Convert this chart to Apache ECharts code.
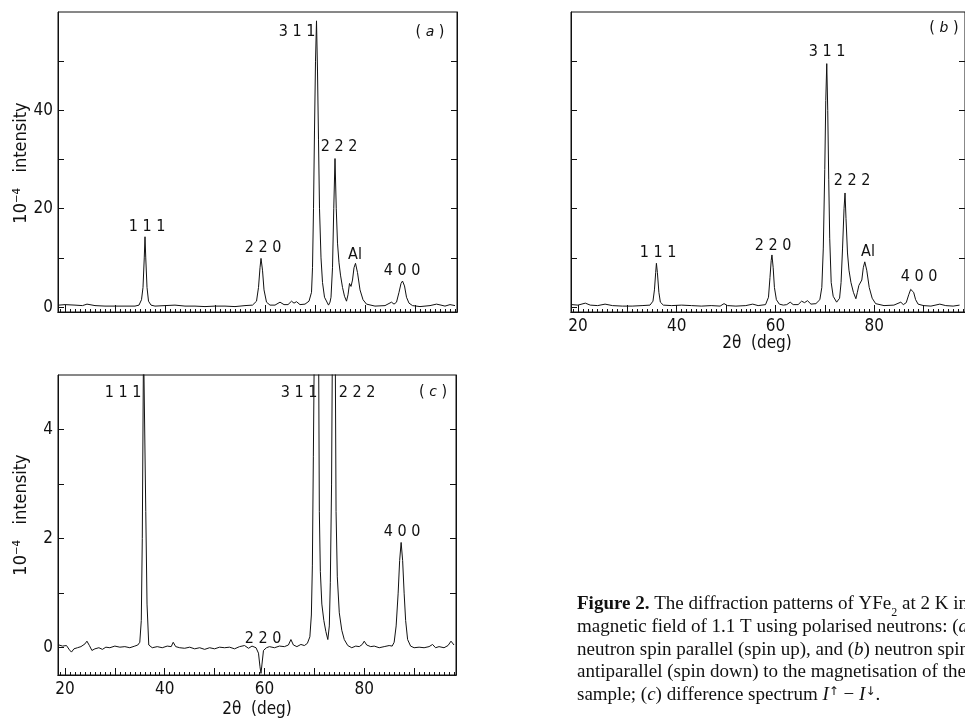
<!DOCTYPE html>
<html>
<head>
<meta charset="utf-8">
<script src="https://cdn.jsdelivr.net/npm/echarts@6/dist/echarts.min.js"></script>
<style>
html,body{margin:0;padding:0;background:#fff;}
#chart{width:965px;height:722px;}
</style>
</head>
<body>
<div id="chart"></div>
<script>
// ---- data: [2θ (deg), 10^-4 intensity] ----
const spinUp = [
[18.8,0.4],[20,0.5],[22,0.4],[23.5,0.3],[24.4,0.6],[26,0.3],[28,0.2],[30,0.2],[32,0.2],[34,0.2],
[34.8,0.4],[35.3,1.5],[35.6,4],[35.85,10],[36.0,14.3],[36.15,10],[36.4,4],[36.7,1.2],[37.2,0.4],
[38,0.2],[40,0.3],[42,0.4],[44,0.2],[46,0.2],[48,0.1],[50,0.2],[52,0.2],[54,0.1],[56,0.3],[57.5,0.4],
[58.3,1.2],[58.7,4],[59.0,8],[59.2,9.9],[59.5,7.5],[59.8,3.5],[60.3,1.0],[61,0.4],[62,0.4],[63,1.0],
[63.8,0.5],[64.6,0.5],[65.3,1.2],[65.8,0.8],[66.3,1.1],[67,0.5],[68,0.6],[68.8,1.2],
[69.3,3],[69.5,8],[69.7,20],[69.9,36],[70.1,50],[70.3,58.2],[70.5,48],[70.7,34],[70.9,20],[71.2,10],
[71.5,5],[71.9,2],[72.7,0.4],[73.0,1.0],[73.2,2],[73.5,8],[73.75,20],[74.0,30.2],[74.25,20],[74.5,13],
[74.8,9],[75.1,6.5],[75.5,4],[75.9,2.2],[76.3,1.2],[76.6,2.5],[76.9,4.8],[77.2,4.2],[77.5,5.5],
[77.8,8],[78.1,8.9],[78.5,7],[79,3.5],[79.6,1.5],[80.3,0.6],[82,0.2],[84,0.3],[85.3,1.0],[85.8,0.6],
[86.3,1.0],[86.8,3],[87.2,4.8],[87.5,5.3],[87.9,4.3],[88.3,2],[88.8,0.8],[89.5,0.3],[91,0.1],[92,0.2],
[93,0.3],[94.3,0.6],[95.2,0.4],[96,0.2],[97,0.5],[98,0.3]
];
const spinDown = [
[18.8,0.5],[20,0.4],[21.5,0.8],[22.5,0.4],[24,0.3],[25.5,0.6],[27,0.3],[29,0.2],[31,0.2],[33,0.3],
[34.6,0.4],[35.2,1.2],[35.5,3.5],[35.75,7],[35.9,8.9],[36.1,7],[36.4,3],[36.7,1.0],[37.3,0.4],
[39,0.3],[41,0.4],[43,0.3],[45,0.2],[47,0.3],[48.8,0.2],[49.6,0.7],[50.3,0.3],[52,0.2],[54,0.3],
[55.4,0.6],[56.5,0.3],[58,0.5],[58.6,2],[58.9,6],[59.15,9.5],[59.3,10.6],[59.55,8],[59.8,4],[60.2,1.5],
[60.8,0.6],[61.6,0.4],[62.3,0.5],[63,1.0],[63.6,0.5],[64.6,0.5],[65.3,1.2],[65.9,0.9],[66.5,1.3],
[67.2,0.6],[68.2,0.7],[69,1.5],[69.4,4],[69.7,12],[70.0,28],[70.2,42],[70.4,49.5],[70.6,40],[70.8,26],
[71.0,14],[71.3,5],[71.7,2.2],[72.4,1.0],[73.0,1.8],[73.3,5],[73.6,12],[73.9,20],[74.1,23.2],[74.3,18],
[74.6,11],[74.9,7.5],[75.3,5],[75.8,3],[76.3,1.7],[76.6,3],[76.9,4.4],[77.2,4.0],[77.5,5.5],[77.8,8],
[78.1,9.2],[78.5,7.5],[79,4],[79.6,1.8],[80.3,0.7],[82,0.3],[84,0.4],[85.4,1.0],[85.9,0.5],[86.5,0.9],
[87.0,2.5],[87.4,3.6],[87.6,3.8],[88.0,3],[88.4,1.5],[88.9,0.6],[90,0.3],[91.5,0.2],[93.3,0.6],
[94.5,0.3],[96,0.2],[97.3,0.4]
];
const difference = [
[18.8,0.05],[19.5,0.03],[20.3,0.04],[20.9,-0.04],[21.3,-0.08],[21.8,-0.02],[22.5,0.0],[23.2,0.02],
[24.0,0.07],[24.4,0.12],[24.9,0.04],[25.4,-0.05],[26.0,-0.02],[26.8,0.0],[27.5,-0.03],[28.2,0.01],
[29,0.0],[30,0.03],[31,0.01],[32,0.02],[33,0.0],[34,0.03],[34.6,0.05],[35.0,0.1],[35.3,0.5],[35.5,2.0],
[35.75,5.6],[36.05,5.6],[36.2,2.5],[36.45,0.8],[36.8,0.05],[37.5,0.0],[38.5,0.02],[39.5,0.0],
[40.5,0.03],[41.3,0.02],[41.7,0.1],[42.2,0.02],[43,0.0],[44,-0.01],[45,0.01],[46,-0.02],[47,0.0],
[48,-0.03],[49,0.0],[50,-0.02],[51,0.01],[52,0.0],[53,0.01],[54,-0.02],[55,0.02],[56,0.04],
[56.8,-0.01],[57.5,0.03],[58.3,0.0],[58.8,-0.1],[59.1,-0.35],[59.3,-0.47],[59.5,-0.3],[59.8,-0.05],
[60.4,0.0],[61,0.02],[62,0.0],[63,0.03],[64,0.02],[64.8,0.05],[65.3,0.15],[65.8,0.05],[66.5,0.02],
[67.3,0.06],[68,0.04],[68.6,0.08],[69.1,0.2],[69.4,0.6],[69.6,1.5],[69.8,3.5],[70.0,5.6],[70.4,9],
[70.85,5.6],[71.0,2.5],[71.2,1.4],[71.5,0.8],[71.9,0.5],[72.3,0.3],[72.7,0.15],[73.0,0.4],[73.2,1.2],
[73.45,3],[73.6,5.3],[73.9,7],[74.2,5.3],[74.35,2.5],[74.6,1.3],[75.0,0.64],[75.5,0.32],[76.0,0.15],
[76.7,0.04],[77.5,0.0],[78.3,0.03],[79,0.02],[79.6,0.06],[80,0.12],[80.5,0.05],[81.3,0.02],[82,0.03],
[83,0.0],[84,0.02],[85,0.04],[85.6,0.03],[86.0,0.1],[86.4,0.4],[86.8,1.0],[87.1,1.6],[87.4,1.93],
[87.7,1.6],[88.0,1.0],[88.3,0.5],[88.7,0.15],[89.3,0.03],[90,0.0],[91,0.01],[92,0.0],[93,0.02],
[93.7,0.06],[94.3,0.0],[95,0.02],[96,0.0],[96.8,0.04],[97.4,0.12],[98,0.05]
];
// tick labels
const xTickLabels = [20, 40, 60, 80];
const xMajorTicks = [20, 30, 40, 50, 60, 70, 80, 90];
const yTickLabelsAB = [0, 20, 40];
const yTicksAB = [0, 10, 20, 30, 40, 50];
const yTickLabelsC = [0, 2, 4];
const yTicksC = [0, 1, 2, 3, 4];
const xMinorTicks = [];
for (let v = 19; v <= 98; v++) xMinorTicks.push(v);

// ---- chart ----
const FONT = "'Liberation Sans Narrow','DejaVu Sans Condensed','Liberation Sans',sans-serif";
const SERIF = "'Liberation Serif','DejaVu Serif',serif";
const INK = '#111';
const X_MIN = 18.6, X_MAX = 98.4;

function xAxesFor(grid, labels) {
  const base = {
    type: 'value', gridIndex: grid, min: X_MIN, max: X_MAX, position: 'bottom',
    splitLine: {show: false},
    axisLine: {show: true, onZero: false, lineStyle: {color: INK, width: 1}}
  };
  return [
    Object.assign({}, base, {
      axisTick: {show: true, inside: true, length: 3, customValues: xMinorTicks, lineStyle: {color: INK}},
      axisLabel: {show: false}
    }),
    Object.assign({}, base, {
      axisTick: {show: true, inside: true, length: 7, customValues: xMajorTicks, lineStyle: {color: INK}},
      axisLabel: {show: labels, customValues: xTickLabels, margin: 6, color: INK,
                  fontFamily: FONT, fontSize: 17}
    })
  ];
}
function yAxesFor(grid, min, max, ticks, labels) {
  const base = {
    type: 'value', gridIndex: grid, min: min, max: max,
    splitLine: {show: false},
    axisLine: {show: true, onZero: false, lineStyle: {color: INK, width: 1}}
  };
  return [
    Object.assign({}, base, {
      position: 'left',
      axisTick: {show: true, inside: true, length: 6, customValues: ticks, lineStyle: {color: INK}},
      axisLabel: {show: !!labels, customValues: labels || [], margin: 5, color: INK,
                  fontFamily: FONT, fontSize: 17}
    }),
    Object.assign({}, base, {
      position: 'right',
      axisTick: {show: true, inside: true, length: 6, customValues: ticks.filter(v => v !== 0), lineStyle: {color: INK}},
      axisLabel: {show: false}
    })
  ];
}

const lineSeries = (data, xi, yi) => ({
  type: 'line', data: data, xAxisIndex: xi, yAxisIndex: yi,
  symbol: 'none', showSymbol: false, smooth: false, clip: true,
  lineStyle: {color: INK, width: 1}, silent: true
});

function txt(x, y, s, extra) {
  return Object.assign({
    type: 'text', x: x, y: y, silent: true,
    style: Object.assign({text: s, fill: INK, font: '16px ' + FONT, align: 'center', verticalAlign: 'middle'}, extra || {})
  });
}
function panelTag(x, y, letter) {
  return {
    type: 'text', x: x, y: y, silent: true,
    style: {
      text: '( {i|' + letter + '} )', fill: INK, font: '16px ' + FONT, align: 'center', verticalAlign: 'middle',
      rich: {i: {fontStyle: 'italic', fontFamily: 'DejaVu Sans', fontSize: 14, fill: INK}}
    }
  };
}
const CAP = 19;
function captionLine(y, s) {
  return {
    type: 'text', x: 577, y: y, silent: true,
    style: {
      text: s, fill: INK, fontFamily: SERIF, fontSize: CAP, align: 'left', verticalAlign: 'middle',
      rich: {
        b: {fontWeight: 'bold', fontFamily: SERIF, fontSize: CAP, fill: INK},
        i: {fontStyle: 'italic', fontFamily: SERIF, fontSize: CAP, fill: INK},
        sub: {fontFamily: SERIF, fontSize: 12, fill: INK, verticalAlign: 'bottom', lineHeight: 12, padding: [0, 0, -5, 0]},
        sup: {fontFamily: 'DejaVu Sans', fontSize: 12, fill: INK, verticalAlign: 'top', lineHeight: 12}
      }
    }
  };
}

const chart = echarts.init(document.getElementById('chart'), null, {renderer: 'canvas'});
const xAxis = [].concat(xAxesFor(0, false), xAxesFor(1, true), xAxesFor(2, true));
const yAxis = [].concat(
  yAxesFor(0, -1, 60, yTicksAB, yTickLabelsAB),
  yAxesFor(1, -1, 60, yTicksAB, null),
  yAxesFor(2, -0.5, 5, yTicksC, yTickLabelsC)
);

chart.setOption({
  animation: false,
  backgroundColor: '#fff',
  grid: [
    {left: 58, top: 12, width: 399, height: 300, show: true, borderColor: INK, borderWidth: 1, backgroundColor: 'transparent'},
    {left: 571, top: 12, width: 399, height: 300, show: true, borderColor: INK, borderWidth: 1, backgroundColor: 'transparent'},
    {left: 58, top: 375, width: 398, height: 300, show: true, borderColor: INK, borderWidth: 1, backgroundColor: 'transparent'}
  ],
  xAxis: xAxis,
  yAxis: yAxis,
  series: [
    lineSeries(spinUp, 0, 0),
    lineSeries(spinDown, 2, 2),
    lineSeries(difference, 4, 4)
  ],
  graphic: [
    // panel (a)
    txt(147, 227, '1 1 1'), txt(263, 248, '2 2 0'), txt(297, 32, '3 1 1'),
    txt(339, 147, '2 2 2'), txt(355, 255, 'Al'), txt(402, 271, '4 0 0'),
    panelTag(430, 32, 'a'),
    // panel (b)
    txt(658, 253, '1 1 1'), txt(773, 246, '2 2 0'), txt(827, 52, '3 1 1'),
    txt(852, 181, '2 2 2'), txt(868, 252, 'Al'), txt(919, 277, '4 0 0'),
    panelTag(944, 28, 'b'),
    // panel (c)
    txt(123, 393, '1 1 1'), txt(299, 393, '3 1 1'), txt(357, 393, '2 2 2'),
    txt(263, 639, '2 2 0'), txt(402, 532, '4 0 0'),
    panelTag(433, 392, 'c'),
    // axis titles
    txt(757, 344, '2θ  (deg)', {font: '17px ' + FONT}),
    txt(257, 710, '2θ  (deg)', {font: '17px ' + FONT}),
    Object.assign(txt(21, 163, '10⁻⁴   intensity', {font: '18px ' + FONT}), {rotation: Math.PI / 2}),
    Object.assign(txt(21, 515, '10⁻⁴   intensity', {font: '18px ' + FONT}), {rotation: Math.PI / 2}),
    // caption
    captionLine(604, '{b|Figure 2.} The diffraction patterns of YFe{sub|2} at 2 K in a'),
    captionLine(627, 'magnetic field of 1.1 T using polarised neutrons: ({i|a})'),
    captionLine(650, 'neutron spin parallel (spin up), and ({i|b}) neutron spin'),
    captionLine(672, 'antiparallel (spin down) to the magnetisation of the'),
    captionLine(695, 'sample; ({i|c}) difference spectrum {i|I}{sup|↑} − {i|I}{sup|↓}.')
  ]
});
</script>
</body>
</html>
